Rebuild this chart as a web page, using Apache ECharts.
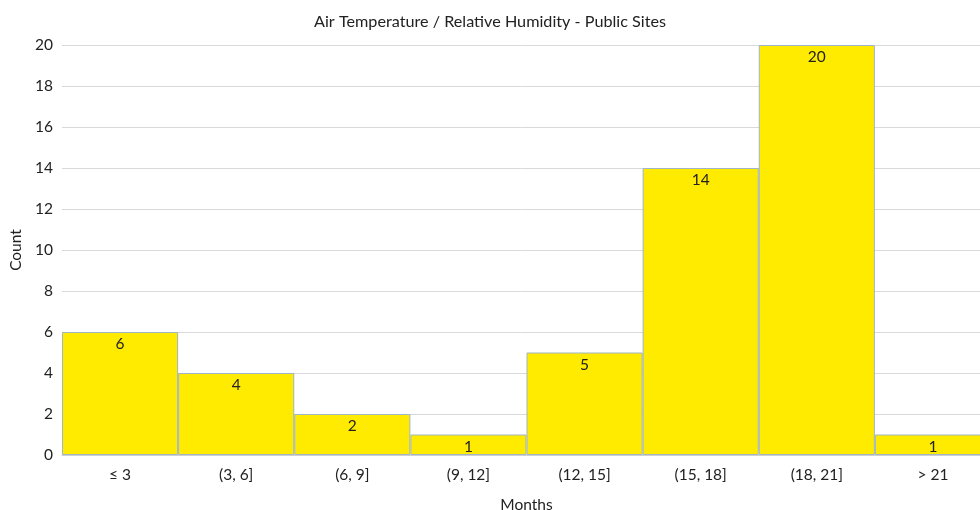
<!DOCTYPE html>
<html>
<head>
<meta charset="utf-8">
<script src="https://cdn.jsdelivr.net/npm/echarts@6/dist/echarts.min.js"></script>
<style>html,body{margin:0;padding:0;background:#fff}#c{width:980px;height:510px}</style>
</head>
<body>
<div id="c"></div>
<script>
const categories = ['≤ 3', '(3, 6]', '(6, 9]', '(9, 12]', '(12, 15]', '(15, 18]', '(18, 21]', '> 21'];
const counts = [6, 4, 2, 1, 5, 14, 20, 1];
const titleText = 'Air Temperature / Relative Humidity - Public Sites';
const xName = 'Months';
const yName = 'Count';

const font = 'Lato, "Open Sans", sans-serif';
const fs = 15.5;
const chart = echarts.init(document.getElementById('c'));
chart.setOption({
  animation: false,
  title: {
    text: titleText, left: 'center', top: 9,
    textStyle: { fontFamily: font, fontSize: 16.2, fontWeight: 'normal', color: '#222' }
  },
  grid: { left: 62, right: -11, top: 45, bottom: 55, containLabel: false, outerBoundsMode: 'none' },
  xAxis: {
    type: 'category', data: categories,
    name: xName, nameLocation: 'middle', nameGap: 42,
    nameTextStyle: { fontFamily: font, fontSize: fs, color: '#222' },
    axisLine: { lineStyle: { color: '#d0d0d0' } },
    axisTick: { show: false },
    axisLabel: { fontFamily: font, fontSize: fs, color: '#222', margin: 12 }
  },
  yAxis: {
    type: 'value', min: 0, max: 20, interval: 2,
    name: yName, nameLocation: 'middle', nameGap: 37, nameRotate: 90,
    nameTextStyle: { fontFamily: font, fontSize: fs, color: '#222' },
    axisLine: { show: false }, axisTick: { show: false },
    axisLabel: { fontFamily: font, fontSize: fs, color: '#222', margin: 9 },
    splitLine: { lineStyle: { color: '#d9d9d9' } }
  },
  series: [{
    type: 'bar', data: counts, barWidth: '100%', barCategoryGap: '0%',
    itemStyle: { color: '#FFEB00', borderColor: '#9fb4c7', borderWidth: 1 },
    label: { show: true, position: 'insideTop', distance: 4,
      fontFamily: font, fontSize: fs, color: '#222' }
  }]
});
</script>
</body>
</html>
